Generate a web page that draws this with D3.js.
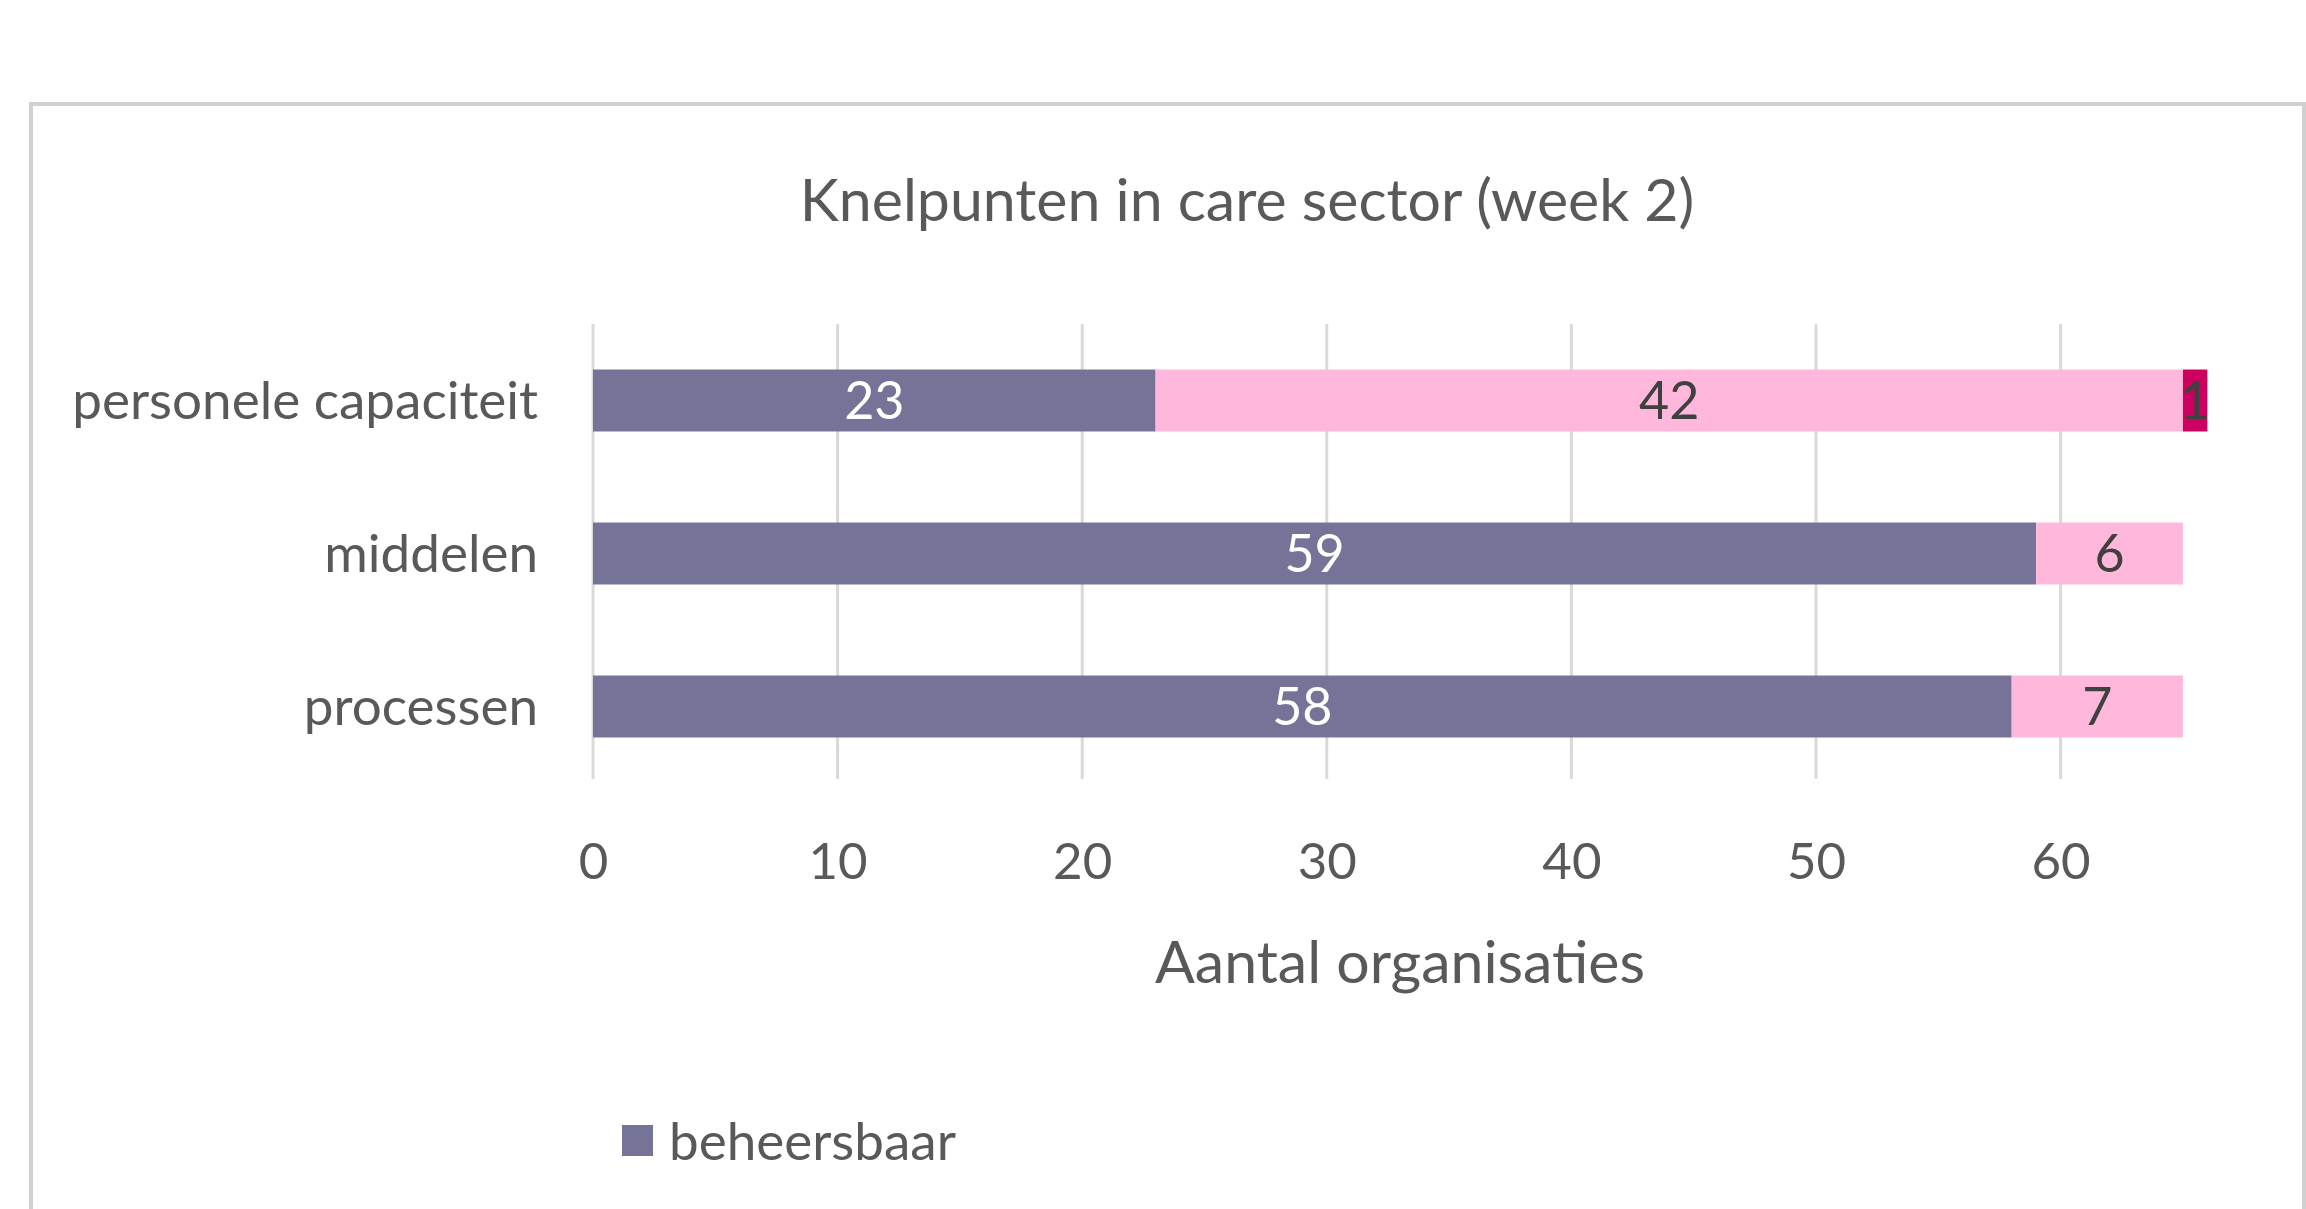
<!DOCTYPE html>
<html>
<head>
<meta charset="utf-8">
<script src="https://cdn.jsdelivr.net/npm/d3@7"></script>
<style>
  body { margin: 0; background: #fff; }
  svg { display: block; font-family: Lato, "Open Sans", sans-serif; }
</style>
</head>
<body>
<svg id="chart"></svg>
<script>
const categories = ["personele capaciteit", "middelen", "processen"];
const seriesNames = ["beheersbaar", "problematisch", "zeer problematisch"];
const beheersbaar = [23, 59, 58];
const problematisch = [42, 6, 7];
const zeerProblematisch = [1, 0, 0];
const xTicks = [0, 10, 20, 30, 40, 50, 60];
const colors = ["#767399", "#FFB8DB", "#CC0060"];
const labelColors = ["#ffffff", "#404040", "#404040"];

const width = 2306;
const height = 1209;
const margin = { top: 324, right: 1, bottom: 426, left: 593 };

const svg = d3.select("#chart").attr("width", width).attr("height", height);

// chart frame
svg.append("rect")
  .attr("x", 31).attr("y", 104)
  .attr("width", 2273).attr("height", 1200)
  .attr("fill", "#fff")
  .attr("stroke", "#d0d0d0")
  .attr("stroke-width", 4);

svg.append("text")
  .attr("x", 1247).attr("y", 198)
  .attr("text-anchor", "middle")
  .attr("dominant-baseline", "central")
  .attr("fill", "#595959")
  .style("font-size", "59px")
  .text("Knelpunten in care sector (week 2)");

const rows = categories.map((c, i) => ({
  cat: c,
  values: [beheersbaar[i], problematisch[i], zeerProblematisch[i]],
}));

const x = d3.scaleLinear()
  .domain([0, 70])
  .range([margin.left, margin.left + 7 * 244.6]);

const y = d3.scaleBand()
  .domain(categories)
  .range([margin.top, height - margin.bottom])
  .paddingInner(0.595)
  .paddingOuter(0.2975);

// gridlines
svg.append("g")
  .selectAll("line")
  .data(xTicks)
  .join("line")
  .attr("x1", (d) => x(d)).attr("x2", (d) => x(d))
  .attr("y1", margin.top).attr("y2", height - margin.bottom - 4)
  .attr("stroke", "#d9d9d9")
  .attr("stroke-width", 3);

// x axis labels
const xAxis = d3.axisBottom(x).tickValues(xTicks).tickSize(0).tickPadding(0);
const gx = svg.append("g")
  .attr("transform", `translate(0, ${height - margin.bottom})`)
  .call(xAxis);
gx.select(".domain").remove();
gx.selectAll("text")
  .attr("y", 78)
  .attr("dy", "0.35em")
  .attr("fill", "#595959")
  .style("font-size", "51px")
  .style("font-family", "Lato, sans-serif");

svg.append("text")
  .attr("x", 1400).attr("y", 960)
  .attr("text-anchor", "middle")
  .attr("dominant-baseline", "central")
  .attr("fill", "#595959")
  .style("font-size", "59px")
  .text("Aantal organisaties");

// category labels
const yAxis = d3.axisLeft(y).tickSize(0).tickPadding(0);
const gy = svg.append("g")
  .attr("transform", `translate(${margin.left - 55}, 0)`)
  .call(yAxis);
gy.select(".domain").remove();
gy.selectAll("text")
  .attr("dy", "0.35em")
  .attr("fill", "#595959")
  .style("font-size", "53px")
  .style("font-family", "Lato, sans-serif");

// stacked bars
const segs = [];
rows.forEach((r) => {
  let start = 0;
  r.values.forEach((v, k) => {
    if (v > 0) segs.push({ cat: r.cat, k, v, x0: start, x1: start + v });
    start += v;
  });
});

svg.append("g")
  .selectAll("rect")
  .data(segs)
  .join("rect")
  .attr("x", (d) => x(d.x0))
  .attr("width", (d) => x(d.x1) - x(d.x0))
  .attr("y", (d) => y(d.cat))
  .attr("height", y.bandwidth())
  .attr("fill", (d) => colors[d.k]);

svg.append("g")
  .selectAll("text")
  .data(segs)
  .join("text")
  .attr("x", (d) => x((d.x0 + d.x1) / 2))
  .attr("y", (d) => y(d.cat) + y.bandwidth() / 2)
  .attr("text-anchor", "middle")
  .attr("dy", "0.35em")
  .attr("fill", (d) => labelColors[d.k])
  .style("font-size", "52px")
  .text((d) => d.v);

// legend (only first entry visible)
const lg = svg.append("g").attr("transform", "translate(622, 1125)");
lg.append("rect")
  .attr("width", 31).attr("height", 31)
  .attr("fill", colors[0]);
lg.append("text")
  .attr("x", 47).attr("y", 16)
  .attr("dy", "0.35em")
  .attr("fill", "#595959")
  .style("font-size", "53px")
  .text(seriesNames[0]);
</script>
</body>
</html>
